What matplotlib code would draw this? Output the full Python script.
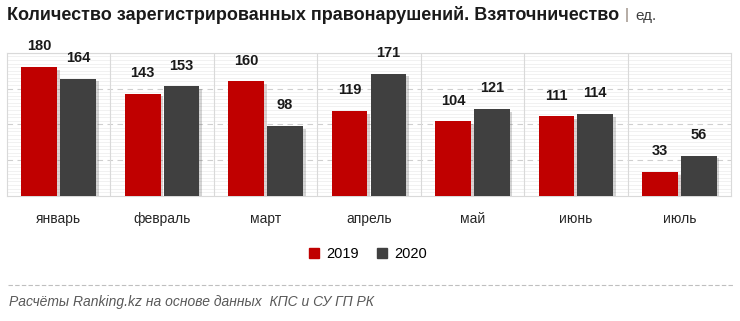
import matplotlib.pyplot as plt
import matplotlib.patheffects as pe
import numpy as np

months = ['январь', 'февраль', 'март', 'апрель', 'май', 'июнь', 'июль']
y2019 = [180, 143, 160, 119, 104, 111, 33]
y2020 = [164, 153, 98, 171, 121, 114, 56]
years = ['2019', '2020']

c_red = '#c00000'
c_dark = '#404040'
W, H = 740, 321

plt.rcParams['font.family'] = ['Liberation Sans', 'DejaVu Sans']

fig = plt.figure(figsize=(W / 100, H / 100), dpi=100)
ax = fig.add_axes([7 / W, 1 - 195.7 / H, (731 - 7) / W, (195.7 - 52.9) / H])

x = np.arange(len(months))
bw = 0.345
shadow = [pe.SimplePatchShadow(offset=(2, -2), alpha=0.18), pe.Normal()]
b1 = ax.bar(x - bw / 2 - 0.015, y2019, bw, color=c_red, zorder=3, path_effects=shadow)
b2 = ax.bar(x + bw / 2 + 0.015, y2020, bw, color=c_dark, zorder=3, path_effects=shadow)

for bars, vals in [(b1, y2019), (b2, y2020)]:
    for b, v in zip(bars, vals):
        ax.annotate(str(v), (b.get_x() + b.get_width() / 2, v), xytext=(0, 10),
                    textcoords='offset points', ha='center', va='bottom',
                    fontsize=10.5, fontweight='bold', color='#1a1a1a')

ax.set_xlim(-0.5, len(months) - 0.5)
ax.set_ylim(0, 200)

# minor light lines + dashed major lines
for yy in range(5, 200, 5):
    if yy % 50 == 0:
        ax.axhline(yy, color='#cfcfcf', lw=0.8, ls=(0, (5, 4)), zorder=1)
    else:
        ax.axhline(yy, color='#efefef', lw=0.6, zorder=0)
ax.axhline(200, color='#d9d9d9', lw=0.8, zorder=1)
for xx in np.arange(0.5, len(months) - 0.5, 1):
    ax.axvline(xx, color='#d9d9d9', lw=0.8, zorder=1)

for s in ['left', 'right', 'bottom', 'top']:
    ax.spines[s].set_color('#d9d9d9')
    ax.spines[s].set_linewidth(0.8)
ax.set_yticks([])
ax.set_xticks(x)
ax.set_xticklabels(months, fontsize=10, color='#262626')
ax.tick_params(axis='x', length=0, pad=12)

fig.text(7 / W, 1 - 15 / H, 'Количество зарегистрированных правонарушений. Взяточничество',
         fontsize=13, fontweight='bold', color='#1a1a1a', va='center')
fig.text(625 / W, 1 - 15 / H, '|', fontsize=11, color='#8c7f73', va='center')
fig.text(635 / W, 1 - 16 / H, 'ед.', fontsize=11, color='#404040', va='center')

handles = [plt.Rectangle((0, 0), 1, 1, color=c_red), plt.Rectangle((0, 0), 1, 1, color=c_dark)]
fig.legend(handles, years, loc='center', bbox_to_anchor=(368 / W, 1 - 254 / H), ncol=2,
           frameon=False, fontsize=10.5, handlelength=0.7, handleheight=0.7,
           handletextpad=0.5, columnspacing=1.2)

fig.add_artist(plt.Line2D([8 / W, 733 / W], [1 - 285 / H, 1 - 285 / H], color='#bfbfbf',
                          lw=0.8, ls=(0, (4, 2))))
fig.text(9 / W, 1 - 302 / H, 'Расчёты Ranking.kz на основе данных  КПС и СУ ГП РК',
         fontsize=10, style='italic', color='#595959', va='center')

fig.savefig('out.png', dpi=100)
